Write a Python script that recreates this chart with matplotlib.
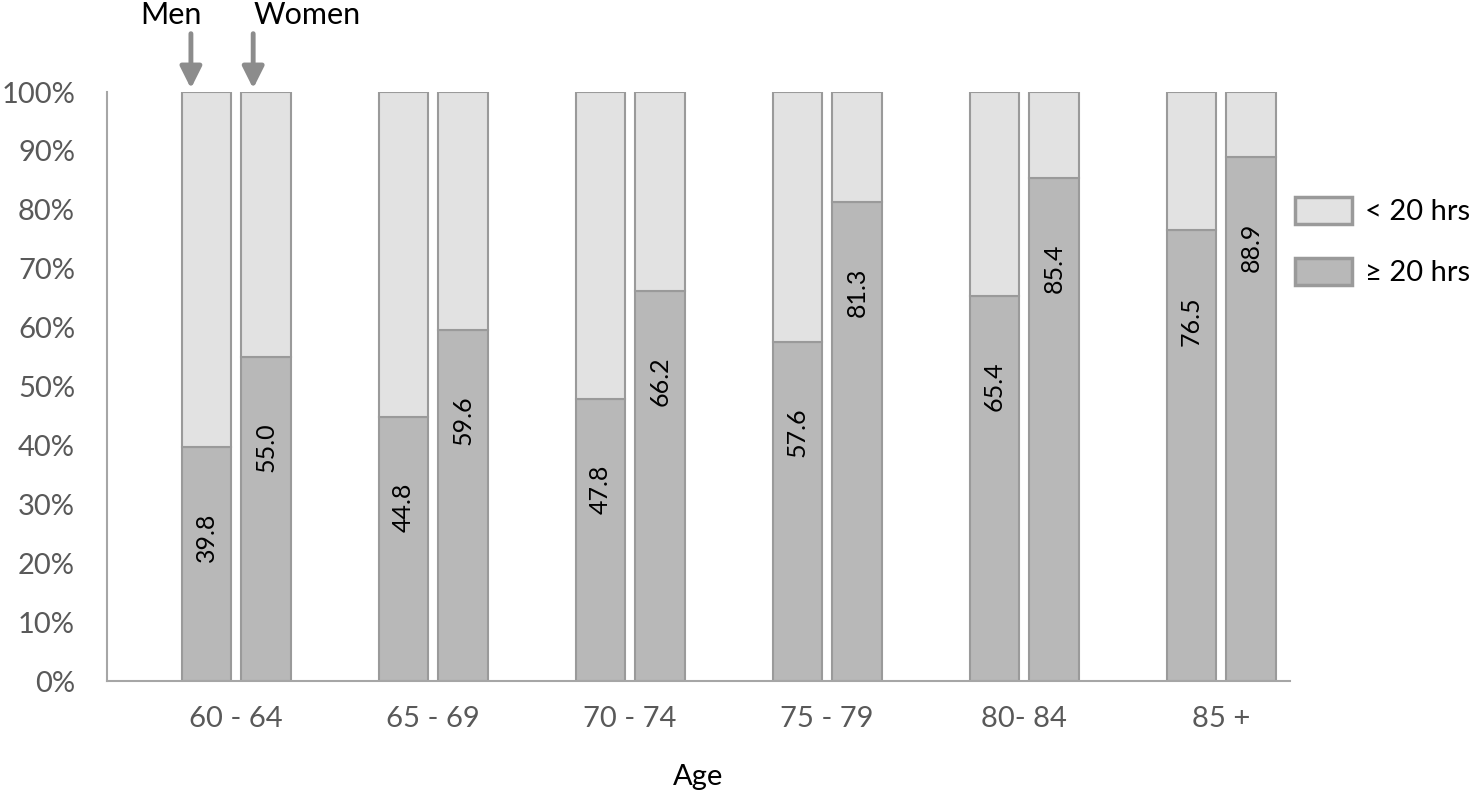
import matplotlib
matplotlib.use("Agg")
import matplotlib.pyplot as plt
from matplotlib.patches import Patch
import numpy as np

categories = ["60 - 64", "65 - 69", "70 - 74", "75 - 79", "80- 84", "85 +"]
men_ge20 = [39.8, 44.8, 47.8, 57.6, 65.4, 76.5]
women_ge20 = [55.0, 59.6, 66.2, 81.3, 85.4, 88.9]
yticks = [0, 10, 20, 30, 40, 50, 60, 70, 80, 90, 100]

plt.rcParams['font.family'] = ['Lato', 'DejaVu Sans']

light = "#e2e2e2"
dark = "#b8b8b8"
edge = "#9a9a9a"
tickcol = "#595959"

fig = plt.figure(figsize=(14.75, 7.95), dpi=100)
ax = fig.add_axes([107/1475, 1 - 681/795, (1290 - 107)/1475, (681 - 92)/795])

x = np.arange(len(categories))
w = 0.249
off = 0.152
for xs, vals in [(x - off, men_ge20), (x + off, women_ge20)]:
    vals = np.array(vals)
    ax.bar(xs, vals, w, color=dark, edgecolor=edge, linewidth=1.5, zorder=2)
    ax.bar(xs, 100 - vals, w, bottom=vals, color=light, edgecolor=edge, linewidth=1.5, zorder=2)
    for xi, v in zip(xs, vals):
        ax.annotate(f"{v:.1f}", xy=(xi, v), xytext=(0, -65), textcoords='offset points',
                    rotation=90, ha='center', va='center', fontsize=18, color='black', zorder=3)

ax.set_xlim(-0.655, 5.35)
ax.set_ylim(0, 100)
ax.set_yticks(yticks)
ax.set_yticklabels([f"{t}%" for t in yticks], fontsize=21, color=tickcol)
ax.set_xticks(x)
ax.set_xticklabels(categories, fontsize=21, color=tickcol)
ax.tick_params(axis='y', length=0, pad=23)
ax.tick_params(axis='x', length=0, pad=18)
for s in ['top', 'right']:
    ax.spines[s].set_visible(False)
for s in ['left', 'bottom']:
    ax.spines[s].set_color("#a6a6a6")
    ax.spines[s].set_linewidth(1.5)
ax.set_xlabel("Age", fontsize=21, color='black', labelpad=23)

# arrows
for xi in [x[0] - off - 0.077, x[0] + off - 0.065]:
    ax.annotate("", xy=(xi, 100.6), xytext=(xi, 109.9),
                arrowprops=dict(arrowstyle='-|>,head_width=0.65,head_length=1.3',
                                color="#8c8c8c", lw=3.5, shrinkA=0, shrinkB=0),
                annotation_clip=False)
fig.text(171/1475, 1 - 15/795, "Men", ha='center', va='center', fontsize=22)
fig.text(307/1475, 1 - 15/795, "Women", ha='center', va='center', fontsize=22)

# legend
handles = [Patch(facecolor=light, edgecolor=edge, linewidth=2.5, label="< 20 hrs"),
           Patch(facecolor=dark, edgecolor=edge, linewidth=2.5, label="≥ 20 hrs")]
fig.legend(handles=handles, loc='upper left', bbox_to_anchor=(1295/1475, 1 - 197/795),
           frameon=False, fontsize=21, handlelength=1.95, handleheight=1.05,
           labelspacing=1.1, handletextpad=0.45, borderaxespad=0, borderpad=0)

fig.savefig("out.png", dpi=100)
